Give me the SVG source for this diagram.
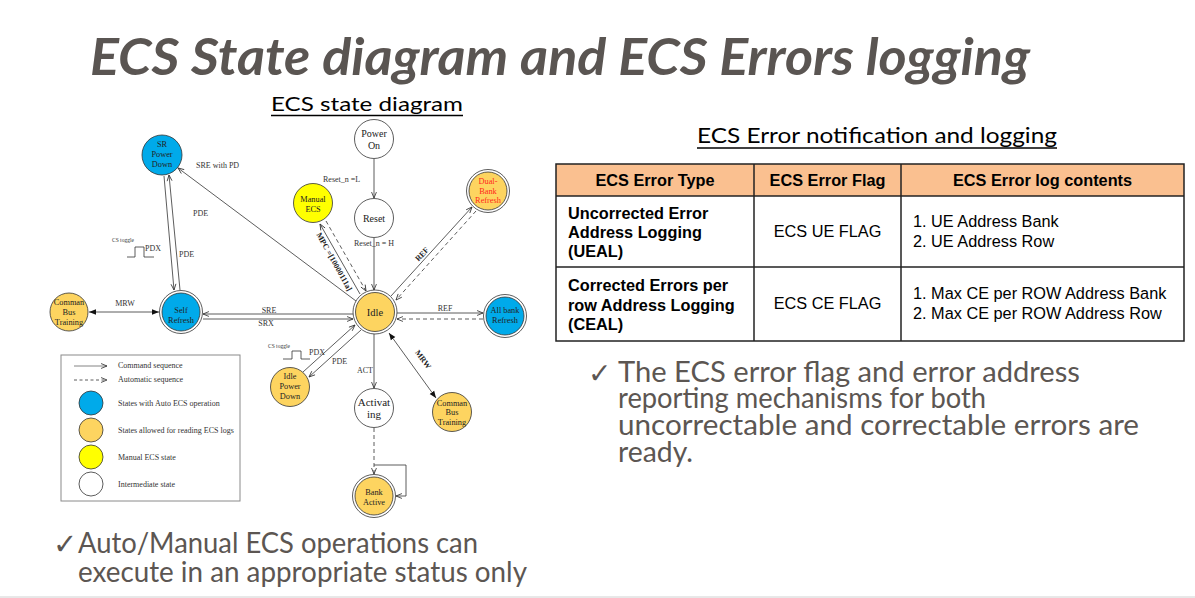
<svg xmlns="http://www.w3.org/2000/svg" width="1195" height="598" viewBox="0 0 1195 598">
<defs>
<style>
.bg{fill:#fff}
.ring{fill:#fff;stroke:#333;stroke-width:0.8}
.blue{fill:#00AAEA;stroke:#333;stroke-width:0.8}
.org{fill:#FDD460;stroke:#333;stroke-width:0.8}
.yel{fill:#FFFF00;stroke:#333;stroke-width:0.8}
.wht{fill:#fff;stroke:#333;stroke-width:0.8}
.ln{fill:none;stroke:#333;stroke-width:0.8}
.dash{fill:none;stroke:#333;stroke-width:0.8;stroke-dasharray:4 3}
.nt{font-family:"Liberation Serif",serif;font-size:8.3px;fill:#222;text-anchor:middle}
.nb{font-family:"Liberation Serif",serif;font-size:10px;fill:#222;text-anchor:middle}
.lb{font-family:"Liberation Serif",serif;font-size:8px;fill:#333}
.lbc{font-family:"Liberation Serif",serif;font-size:8px;fill:#333;text-anchor:middle}
.rot{font-family:"Liberation Serif",serif;font-size:8px;fill:#222;font-weight:bold;text-anchor:middle}
.tiny{font-family:"Liberation Serif",serif;font-size:5.5px;fill:#333}
.th{font-family:"Liberation Sans",Arial,sans-serif;font-size:16.3px;font-weight:bold;fill:#000}
.td{font-family:"Liberation Sans",Arial,sans-serif;font-size:16.3px;fill:#000}
.cal{font-family:Lato,"Open Sans",sans-serif;fill:#5C5652}
.chk{font-family:"DejaVu Sans",sans-serif;fill:#5C5652}
</style>
<marker id="a" viewBox="0 0 10 10" refX="9.5" refY="5" markerWidth="7" markerHeight="7" orient="auto" markerUnits="userSpaceOnUse">
<path d="M1,1.5 L9.5,5 L1,8.5" fill="none" stroke="#333" stroke-width="1.2"/>
</marker>
<marker id="f" viewBox="0 0 10 10" refX="10" refY="5" markerWidth="7" markerHeight="7" orient="auto-start-reverse" markerUnits="userSpaceOnUse">
<path d="M0,1 L10,5 L0,9 z" fill="#111"/>
</marker>
</defs>
<rect class="bg" x="0" y="0" width="1195" height="598"/>

<!-- Title -->
<text x="90" y="75" font-family="Lato,'Open Sans',sans-serif" font-size="52" font-weight="bold" font-style="italic" fill="#5A5552" textLength="940" lengthAdjust="spacingAndGlyphs">ECS State diagram and ECS Errors logging</text>

<text x="271" y="111" font-family="Lato,'Open Sans',sans-serif" font-size="20" fill="#000" textLength="192" lengthAdjust="spacingAndGlyphs">ECS state diagram</text>
<line x1="271" y1="115.5" x2="463" y2="115.5" stroke="#000" stroke-width="1.4"/>

<text x="697" y="143" font-family="Lato,'Open Sans',sans-serif" font-size="21" fill="#000" textLength="360" lengthAdjust="spacingAndGlyphs">ECS Error notification and logging</text>
<line x1="697" y1="148" x2="1057" y2="148" stroke="#000" stroke-width="1.4"/>

<!-- Connectors -->
<g id="connectors">
  <line class="ln" x1="374" y1="159" x2="374" y2="198" marker-end="url(#a)"/>
  <line class="ln" x1="374" y1="238" x2="374" y2="290" marker-end="url(#a)"/>
  <line class="ln" x1="374" y1="334" x2="374" y2="388" marker-end="url(#a)"/>
  <line class="dash" x1="374" y1="428" x2="374" y2="474" marker-end="url(#a)"/>
  <path class="ln" d="M374,465 H406 V496 H396" marker-end="url(#a)"/>
  <!-- Manual ECS -->
  <line class="ln" x1="360" y1="294" x2="320" y2="224" marker-end="url(#a)"/>
  <line class="dash" x1="326" y1="221" x2="366" y2="291" marker-end="url(#a)"/>
  <!-- Dual-bank -->
  <line class="ln" x1="391" y1="296" x2="472" y2="207" marker-end="url(#a)"/>
  <line class="dash" x1="476" y1="211" x2="396" y2="300" marker-end="url(#a)"/>
  <!-- All bank -->
  <line class="ln" x1="397" y1="313" x2="483" y2="313" marker-end="url(#a)"/>
  <line class="dash" x1="483" y1="319" x2="397" y2="319" marker-end="url(#a)"/>
  <!-- CBT right -->
  <line class="ln" x1="389" y1="333" x2="436" y2="398" marker-start="url(#f)" marker-end="url(#f)"/>
  <!-- Idle power down -->
  <line class="ln" x1="303" y1="372" x2="355" y2="325" marker-end="url(#a)"/>
  <line class="ln" x1="361" y1="330" x2="309" y2="377" marker-end="url(#a)"/>
  <!-- Self refresh -->
  <line class="ln" x1="353" y1="314" x2="203" y2="314" marker-end="url(#a)"/>
  <line class="ln" x1="203" y1="319" x2="353" y2="319" marker-end="url(#a)"/>
  <!-- SR power down -->
  <line class="ln" x1="164" y1="176" x2="174" y2="290" marker-end="url(#a)"/>
  <line class="ln" x1="180" y1="290" x2="169" y2="175" marker-end="url(#a)"/>
  <line class="ln" x1="356" y1="301" x2="178" y2="168" marker-end="url(#a)"/>
  <!-- CBT left -->
  <line class="ln" x1="89" y1="312" x2="159" y2="312" marker-start="url(#f)" marker-end="url(#f)"/>

  <!-- labels -->
  <text class="lb" x="323" y="182">Reset_n =L</text>
  <text class="lb" x="354" y="246">Reset_n = H</text>
  <text class="rot" transform="translate(332,263) rotate(61)">MPC =[10000111a]</text>
  <text class="rot" transform="translate(424,256) rotate(-47)">REF</text>
  <text class="lbc" x="445" y="310.5">REF</text>
  <text class="rot" transform="translate(421,361) rotate(54)">MRW</text>
  <text class="lb" x="357" y="372.5">ACT</text>
  <text class="lb" x="309" y="355">PDX</text>
  <text class="lb" x="332" y="364">PDE</text>
  <text class="tiny" x="268" y="348">CS toggle</text>
  <path class="ln" d="M283,359 H292 V351 H301 V359 H310"/>
  <text class="lbc" x="269" y="312.5">SRE</text>
  <text class="lbc" x="266" y="326">SRX</text>
  <text class="lbc" x="125" y="306">MRW</text>
  <text class="lb" x="196" y="168">SRE with PD</text>
  <text class="lb" x="193" y="216">PDE</text>
  <text class="lb" x="179" y="257">PDE</text>
  <text class="lb" x="145" y="251">PDX</text>
  <text class="tiny" x="112" y="242">CS toggle</text>
  <path class="ln" d="M127,257 H135 V247 H144 V257 H154"/>
</g>

<!-- Nodes -->
<g id="n-poweron">
  <circle class="wht" cx="374" cy="139" r="19.5"/>
  <text class="nb" x="374" y="137">Power</text>
  <text class="nb" x="374" y="149">On</text>
</g>
<g id="n-reset">
  <circle class="wht" cx="374" cy="218" r="19.5"/>
  <text class="nb" x="374" y="222">Reset</text>
</g>
<g id="n-manual">
  <circle class="yel" cx="313" cy="203" r="19.5"/>
  <text class="nt" x="313" y="202">Manual</text>
  <text class="nt" x="313" y="212">ECS</text>
</g>
<g id="n-dualbank">
  <circle class="ring" cx="488" cy="191" r="21.5"/>
  <circle class="org" cx="488" cy="191" r="19"/>
  <text class="nt" x="488" y="184" style="fill:#FF2A1A">Dual-</text>
  <text class="nt" x="488" y="194" style="fill:#FF2A1A">Bank</text>
  <text class="nt" x="488" y="203" style="fill:#FF2A1A">Refresh</text>
</g>
<g id="n-srpd">
  <circle class="blue" cx="162" cy="155" r="20"/>
  <text class="nt" x="162" y="147">SR</text>
  <text class="nt" x="162" y="157">Power</text>
  <text class="nt" x="162" y="167">Down</text>
</g>
<g id="n-selfref">
  <circle class="ring" cx="181" cy="312" r="21.5"/>
  <circle class="blue" cx="181" cy="312" r="19"/>
  <text class="nt" x="181" y="313">Self</text>
  <text class="nt" x="181" y="323">Refresh</text>
</g>
<g id="n-cbt-left">
  <circle class="org" cx="69" cy="312" r="19"/>
  <text class="nt" x="69" y="305">Comman</text>
  <text class="nt" x="69" y="315">Bus</text>
  <text class="nt" x="69" y="325">Training</text>
</g>
<g id="n-idle">
  <circle class="ring" cx="375" cy="312" r="22"/>
  <circle class="org" cx="375" cy="312" r="19.5"/>
  <text class="nb" x="375" y="316" style="font-size:10.5px">Idle</text>
</g>
<g id="n-allbank">
  <circle class="ring" cx="505" cy="316" r="21.5"/>
  <circle class="blue" cx="505" cy="316" r="19"/>
  <text class="nt" x="505" y="313">All bank</text>
  <text class="nt" x="505" y="323">Refresh</text>
</g>
<g id="n-ipd">
  <circle class="org" cx="290" cy="387" r="19.5"/>
  <text class="nt" x="290" y="379">Idle</text>
  <text class="nt" x="290" y="389">Power</text>
  <text class="nt" x="290" y="399">Down</text>
</g>
<g id="n-activating">
  <circle class="wht" cx="374" cy="408" r="19.5"/>
  <text class="nb" x="374" y="406" style="font-size:11px">Activat</text>
  <text class="nb" x="374" y="418" style="font-size:11px">ing</text>
</g>
<g id="n-cbt-right">
  <circle class="org" cx="452" cy="412" r="19.5"/>
  <text class="nt" x="452" y="406">Comman</text>
  <text class="nt" x="452" y="415">Bus</text>
  <text class="nt" x="452" y="425">Training</text>
</g>
<g id="n-bankactive">
  <circle class="ring" cx="374" cy="496" r="21.5"/>
  <circle class="org" cx="374" cy="496" r="19"/>
  <text class="nt" x="374" y="495">Bank</text>
  <text class="nt" x="374" y="505">Active</text>
</g>

<!-- Legend -->
<g id="legend">
  <rect x="61" y="355" width="179" height="146" fill="#fff" stroke="#8a8a8a" stroke-width="1"/>
  <line x1="74" y1="366" x2="107" y2="366" stroke="#777" stroke-width="0.9" marker-end="url(#a)"/>
  <line x1="74" y1="380" x2="107" y2="380" stroke="#333" stroke-width="0.8" stroke-dasharray="3 2.5" marker-end="url(#a)"/>
  <circle class="blue" cx="91" cy="403" r="12"/>
  <circle class="org" cx="91" cy="430" r="12"/>
  <circle class="yel" cx="91" cy="457" r="12"/>
  <circle class="wht" cx="91" cy="484" r="12"/>
  <text class="lb" x="118" y="368">Command sequence</text>
  <text class="lb" x="118" y="382">Automatic sequence</text>
  <text class="lb" x="118" y="406">States with Auto ECS operation</text>
  <text class="lb" x="118" y="433">States allowed for reading ECS logs</text>
  <text class="lb" x="118" y="460">Manual ECS state</text>
  <text class="lb" x="118" y="487">Intermediate state</text>
</g>

<!-- Table -->
<g id="table">
  <rect x="556" y="164" width="628" height="32" fill="#FAC090"/>
  <rect x="556" y="164" width="628" height="177" fill="none" stroke="#222" stroke-width="1.5"/>
  <line x1="556" y1="196" x2="1184" y2="196" stroke="#222" stroke-width="1.5"/>
  <line x1="556" y1="267" x2="1184" y2="267" stroke="#222" stroke-width="1.5"/>
  <line x1="754" y1="164" x2="754" y2="341" stroke="#222" stroke-width="1.5"/>
  <line x1="901" y1="164" x2="901" y2="341" stroke="#222" stroke-width="1.5"/>
  <text class="th" x="655" y="186" text-anchor="middle">ECS Error Type</text>
  <text class="th" x="827.5" y="186" text-anchor="middle">ECS Error Flag</text>
  <text class="th" x="1042.5" y="186" text-anchor="middle">ECS Error log contents</text>
  <text class="th" x="568" y="219">Uncorrected Error</text>
  <text class="th" x="568" y="238">Address Logging</text>
  <text class="th" x="568" y="257">(UEAL)</text>
  <text class="th" x="568" y="291">Corrected Errors per</text>
  <text class="th" x="568" y="311">row Address Logging</text>
  <text class="th" x="568" y="330">(CEAL)</text>
  <text class="td" x="827.5" y="237" text-anchor="middle">ECS UE FLAG</text>
  <text class="td" x="827.5" y="309" text-anchor="middle">ECS CE FLAG</text>
  <text class="td" x="913" y="227">1. UE Address Bank</text>
  <text class="td" x="913" y="247">2. UE Address Row</text>
  <text class="td" x="913" y="299">1. Max CE per ROW Address Bank</text>
  <text class="td" x="913" y="319">2. Max CE per ROW Address Row</text>
</g>

<!-- Bullets -->
<text class="chk" x="588" y="383" font-size="28">✓</text>
<text class="cal" x="618" y="382" font-size="28" textLength="462" lengthAdjust="spacingAndGlyphs">The ECS error flag and error address</text>
<text class="cal" x="618" y="408" font-size="28" textLength="368" lengthAdjust="spacingAndGlyphs">reporting mechanisms for both</text>
<text class="cal" x="618" y="435" font-size="28" textLength="521" lengthAdjust="spacingAndGlyphs">uncorrectable and correctable errors are</text>
<text class="cal" x="618" y="462" font-size="28" textLength="75" lengthAdjust="spacingAndGlyphs">ready.</text>

<text class="chk" x="53" y="554" font-size="29">✓</text>
<text class="cal" x="78" y="553" font-size="28" textLength="400" lengthAdjust="spacingAndGlyphs">Auto/Manual ECS operations can</text>
<text class="cal" x="78" y="582" font-size="28" textLength="449" lengthAdjust="spacingAndGlyphs">execute in an appropriate status only</text>

<line x1="0" y1="597" x2="1195" y2="597" stroke="#d0d0d0" stroke-width="1"/>
</svg>
